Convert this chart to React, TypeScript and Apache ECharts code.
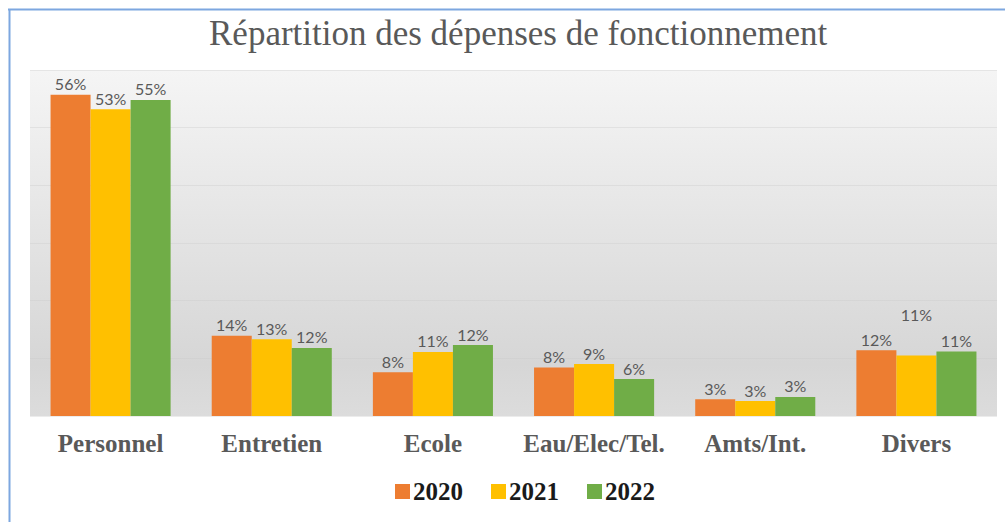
import React, { useEffect, useRef } from "react";
import * as echarts from "echarts";

const categories = ["Personnel", "Entretien", "Ecole", "Eau/Elec/Tel.", "Amts/Int.", "Divers"];
const years = ["2020", "2021", "2022"];
const values2020 = [55.7, 13.9, 7.6, 8.4, 2.9, 11.4];
const values2021 = [53.2, 13.3, 11.1, 9.0, 2.6, 10.5];
const values2022 = [54.8, 11.8, 12.3, 6.4, 3.3, 11.2];
const labels2020 = ["56%", "14%", "8%", "8%", "3%", "12%"];
const labels2021 = ["53%", "13%", "11%", "9%", "3%", "11%"];
const labels2022 = ["55%", "12%", "12%", "6%", "3%", "11%"];
const colors = ["#ED7D31", "#FFC000", "#70AD47"];

export default function App() {
  const ref = useRef<HTMLDivElement>(null);
  useEffect(() => {
    if (!ref.current) return;
    const chart = echarts.init(ref.current, null, { renderer: "svg" });
    const seriesData = [values2020, values2021, values2022];
    const seriesLabels = [labels2020, labels2021, labels2022];
    chart.setOption({
      animation: false,
      backgroundColor: "#ffffff",
      title: {
        text: "Répartition des dépenses de fonctionnement",
        left: 204,
        top: 11,
        textStyle: {
          fontFamily: "Liberation Serif",
          fontSize: 35,
          fontWeight: "normal",
          color: "#595959",
        },
      },
      graphic: [
        { type: "line", shape: { x1: 8, y1: 9.5, x2: 1005, y2: 9.5 }, style: { stroke: "#7DA7E0", lineWidth: 2 } },
        { type: "line", shape: { x1: 9.5, y1: 9, x2: 9.5, y2: 522 }, style: { stroke: "#7DA7E0", lineWidth: 2 } },
      ],
      legend: {
        bottom: 13,
        left: 390,
        itemWidth: 15,
        itemHeight: 15,
        itemGap: 28,
        icon: "rect",
        textStyle: {
          fontFamily: "Liberation Serif",
          fontWeight: "bold",
          fontSize: 25,
          color: "#1a1a1a",
          padding: [0, 0, 0, -2],
        },
      },
      grid: {
        left: 30,
        right: 8,
        top: 70,
        bottom: 106,
        show: true,
        borderWidth: 0,
        backgroundColor: new echarts.graphic.LinearGradient(0, 0, 0, 1, [
          { offset: 0, color: "#f5f5f5" },
          { offset: 0.85, color: "#d6d6d6" },
          { offset: 1, color: "#dcdcdc" },
        ]),
      },
      xAxis: {
        type: "category",
        data: categories,
        axisLine: { show: false },
        axisTick: { show: false },
        axisLabel: {
          interval: 0,
          margin: 15,
          fontFamily: "Liberation Serif",
          fontWeight: "bold",
          fontSize: 25,
          color: "#595959",
        },
      },
      yAxis: {
        type: "value",
        min: 0,
        max: 60,
        interval: 10,
        axisLabel: { show: false },
        axisLine: { show: false },
        axisTick: { show: false },
        splitLine: { lineStyle: { color: "rgba(200,200,200,0.35)", width: 1 } },
      },
      series: years.map((y, i) => ({
        name: y,
        type: "bar",
        barGap: "0%",
        barCategoryGap: "25.5%",
        itemStyle: { color: colors[i] },
        data: seriesData[i].map((v, j) => {
          const item: any = { value: v };
          if (i === 1 && j === 5) {
            item.label = { offset: [0, -30] };
          }
          return item;
        }),
        label: {
          show: true,
          position: "top",
          distance: 3,
          fontFamily: "Lato",
          fontSize: 16,
          color: "#595959",
          formatter: (p: any) => seriesLabels[i][p.dataIndex],
        },
      })),
    });
    return () => chart.dispose();
  }, []);
  return (
    <div
      ref={ref}
      style={{ position: "fixed", left: 0, top: 0, width: 1005, height: 522 }}
    />
  );
}
